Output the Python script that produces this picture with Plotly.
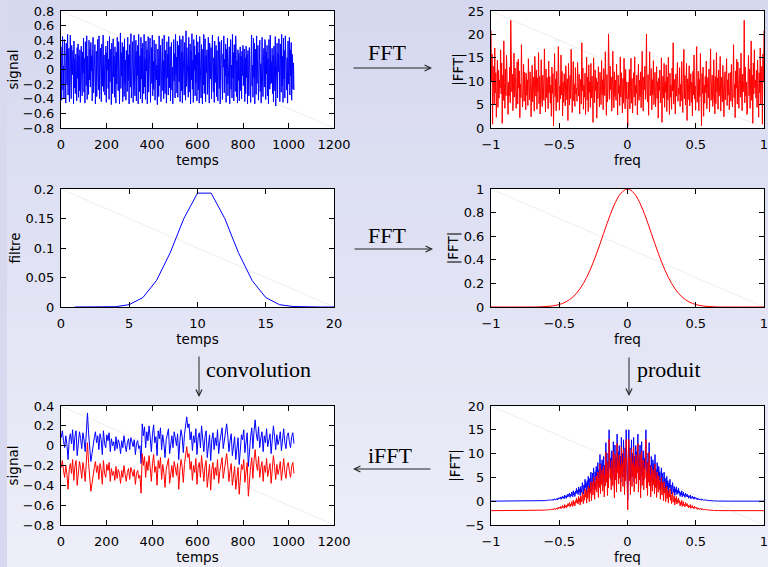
import numpy as np
import plotly.graph_objects as go

# ---------------------------------------------------------------- data
# white noise signal (every 2nd of 1024 samples)
signal = [
    0.31, -0.42, 0.12, 0.45, -0.28, 0.05, -0.39, 0.41, 0.22, -0.11, -0.46, 0.36, 0.02, -0.21, 0.48, -0.35,
    0.17, 0.29, -0.44, 0.08, 0.47, -0.18, -0.40, 0.33, 0.11, -0.07, 0.26, -0.47, 0.39, -0.25, 0.14, -0.33,
    0.21, 0.03, -0.43, 0.30, -0.12, 0.35, -0.38, 0.19, -0.29, 0.27, -0.45, 0.09, 0.32, -0.16, -0.36, 0.24,
    -0.05, 0.43, -0.31, 0.15, -0.46, 0.38, 0.06, -0.22, 0.46, -0.41, 0.18, 0.01, -0.34, 0.40, -0.14, 0.28,
    -0.24, 0.37, -0.02, 0.19, -0.43, 0.27, 0.44, -0.32, 0.08, -0.15, 0.34, -0.47, 0.13, 0.25, -0.37, 0.04,
    0.41, -0.09, -0.28, 0.46, -0.40, 0.16, 0.29, -0.06, -0.44, 0.35, 0.07, -0.23, 0.47, -0.30, 0.20, -0.12,
    -0.35, 0.10, 0.32, -0.45, 0.23, -0.01, 0.39, -0.26, 0.14, -0.41, 0.45, -0.17, 0.06, 0.28, -0.48, 0.36,
    0.00, -0.33, 0.42, -0.10, 0.18, -0.38, 0.31, 0.09, -0.46, 0.24, -0.20, 0.44, -0.04, -0.29, 0.38, -0.42,
    -0.47, 0.10, 0.50, -0.26, 0.23, -0.09, 0.37, -0.44, 0.04, 0.31, -0.37, 0.42, -0.19, 0.13, -0.42, 0.26,
    0.07, -0.30, 0.44, -0.15, 0.20, -0.47, 0.34, 0.00, -0.24, 0.49, -0.39, 0.16, -0.03, 0.38, -0.45, 0.22,
    0.47, -0.20, -0.36, 0.12, 0.40, -0.43, 0.25, -0.08, 0.33, -0.47, 0.48, 0.05, -0.30, 0.19, -0.40, 0.44,
    -0.13, 0.29, -0.46, 0.36, 0.09, -0.33, 0.48, -0.24, 0.14, -0.41, 0.39, -0.02, 0.27, -0.47, 0.21, 0.45,
    -0.31, 0.18, -0.08, 0.43, -0.45, 0.02, 0.30, -0.19, 0.47, -0.36, 0.11, -0.27, 0.40, -0.03, -0.42, 0.24,
    0.35, -0.14, 0.06, -0.48, 0.28, 0.15, -0.37, 0.46, -0.22, 0.09, 0.33, -0.44, 0.19, -0.06, 0.42, -0.29,
    0.12, -0.40, 0.47, -0.17, -0.33, 0.26, 0.04, -0.46, 0.38, -0.11, 0.21, -0.35, 0.45, 0.08, -0.25, 0.31,
    -0.43, 0.14, 0.37, -0.28, 0.03, -0.47, 0.29, 0.41, -0.16, 0.22, -0.39, 0.48, -0.07, 0.17, -0.32, 0.39,
    -0.38, 0.11, 0.33, -0.17, 0.46, -0.44, 0.06, 0.41, -0.29, 0.24, -0.46, 0.46, -0.10, 0.18, -0.35, 0.37,
    0.02, -0.42, 0.53, -0.23, 0.30, -0.06, 0.15, -0.38, 0.44, -0.31, 0.08, 0.35, -0.47, 0.26, -0.14, 0.49,
    -0.27, 0.13, -0.45, 0.41, -0.01, 0.32, -0.36, 0.20, -0.19, 0.47, -0.43, 0.04, 0.38, -0.28, 0.23, -0.46,
    0.45, -0.12, 0.17, -0.39, 0.34, 0.07, -0.47, 0.28, -0.21, 0.48, -0.33, 0.10, 0.42, -0.44, 0.19, -0.04,
    0.27, -0.34, 0.09, 0.44, -0.21, -0.46, 0.36, 0.01, -0.13, 0.30, -0.40, 0.22, 0.47, -0.08, -0.31, 0.16,
    -0.45, 0.39, -0.18, 0.05, 0.33, -0.37, 0.26, -0.02, -0.43, 0.45, 0.12, -0.26, 0.38, -0.47, 0.07, 0.24,
    0.40, -0.15, -0.41, 0.21, 0.03, 0.46, -0.32, 0.14, -0.09, 0.35, -0.45, 0.28, -0.20, 0.43, -0.36, 0.10,
    -0.04, 0.31, -0.47, 0.18, 0.41, -0.27, 0.06, -0.39, 0.48, -0.12, 0.23, -0.43, 0.34, 0.00, -0.30, 0.46,
    0.30, -0.37, 0.12, -0.46, 0.27, -0.15, 0.22, -0.43, 0.09, 0.31, -0.29, 0.18, -0.40, 0.25, -0.08, 0.33,
    -0.22, 0.05, 0.28, -0.44, 0.16, -0.33, 0.32, -0.11, 0.20, -0.47, 0.26, 0.02, -0.36, 0.30, -0.18, 0.11,
    -0.45, 0.20, 0.47, -0.22, 0.06, -0.38, 0.43, -0.11, 0.36, -0.47, 0.14, 0.28, -0.34, 0.46, -0.19, 0.02,
    0.33, -0.42, 0.17, -0.05, 0.40, -0.30, 0.08, -0.46, 0.25, 0.44, -0.16, -0.37, 0.12, 0.29, -0.24, 0.41,
    0.38, -0.41, 0.24, -0.06, 0.33, -0.36, 0.15, -0.47, 0.41, 0.03, -0.27, 0.47, -0.20, 0.11, -0.18, 0.29,
    -0.33, 0.19, -0.44, 0.32, 0.07, -0.29, 0.45, -0.50, 0.13, -0.10, 0.36, -0.39, 0.22, -0.03, 0.42, -0.25,
    -0.44, 0.35, 0.08, -0.31, 0.48, -0.23, 0.18, -0.45, 0.43, -0.13, 0.26, -0.39, 0.46, -0.02, 0.12, -0.28,
    0.16, -0.46, 0.39, -0.20, 0.05, 0.44, -0.35, 0.27, -0.09, 0.37, -0.42, 0.21, 0.10, -0.27, 0.09, -0.28,
]

# |FFT| of the signal for freq >= 0 (the spectrum is symmetric)
spectre_pos = [
    0.3, 9.8, 6.2, 12.5, 4.1, 8.7, 14.9, 5.3, 10.6, 3.2, 7.9, 11.8, 6.6, 15.2, 4.8, 9.1,
    7.4, 11.3, 2.8, 8.9, 13.6, 5.9, 10.2, 6.7, 12.0, 4.3, 9.4, 16.4, 7.0, 3.6, 10.9, 8.2,
    13.2, 6.1, 9.6, 20.1, 7.3, 5.6, 11.4, 2.7, 9.5, 16.3, 6.9, 8.2, 12.7, 3.9, 10.3, 7.1,
    14.4, 5.0, 8.6, 11.9, 4.5, 7.7, 13.1, 6.3, 9.9, 2.1, 10.7, 8.0, 12.4, 5.4, 7.6, 15.0,
    1.2, 8.8, 11.1, 6.4, 13.8, 4.4, 9.9, 7.6, 13.5, 3.5, 10.9, 6.0, 15.1, 8.4, 2.9, 11.7,
    6.6, 9.2, 4.0, 12.8, 7.9, 18.2, 5.1, 10.4, 8.3, 3.0, 11.5, 6.8, 9.7, 14.0, 5.7, 8.5,
    7.2, 12.9, 4.6, 9.3, 5.8, 14.2, 8.0, 3.3, 10.1, 16.8, 6.3, 11.2, 4.9, 8.6, 13.8, 1.6,
    10.5, 6.0, 8.9, 13.3, 4.7, 7.4, 11.6, 5.5, 9.8, 2.6, 12.1, 7.1, 15.6, 6.2, 9.0, 3.8,
    9.6, 17.4, 5.5, 7.7, 12.1, 3.7, 10.4, 6.7, 15.9, 8.9, 0.5, 11.6, 7.4, 13.0, 2.5, 9.2,
    5.3, 11.0, 7.5, 14.3, 4.1, 8.4, 10.8, 6.5, 12.6, 3.4, 9.1, 16.9, 5.9, 7.8, 11.3, 4.6,
    6.1, 14.6, 8.3, 3.0, 11.0, 5.2, 16.1, 7.8, 10.7, 4.0, 12.4, 6.8, 9.0, 15.3, 3.6, 8.1,
    10.9, 5.6, 13.4, 7.2, 2.4, 9.5, 12.0, 6.0, 8.7, 14.8, 4.8, 10.3, 7.0, 11.7, 3.9, 9.6,
    11.9, 5.7, 13.6, 7.0, 4.5, 10.0, 17.8, 6.5, 9.4, 2.2, 12.2, 8.5, 14.7, 5.1, 14.1, 7.5,
    4.2, 9.3, 12.8, 6.6, 16.0, 8.1, 3.7, 11.5, 7.7, 10.1, 23.0, 5.4, 13.0, 6.9, 9.8, 2.9,
    3.4, 10.8, 15.5, 6.9, 12.6, 4.2, 9.7, 18.6, 5.9, 11.3, 1.0, 13.9, 7.3, 16.7, 8.6, 10.2,
    6.4, 12.3, 4.4, 14.5, 8.8, 2.3, 11.8, 7.5, 17.1, 5.0, 9.9, 13.2, 0.8, 15.8, 10.0, 20.8,
]

# gaussian filter
filtre_temps = list(range(1, 21))
filtre = [0.0, 0.0, 0.0001, 0.0005, 0.004, 0.016, 0.045, 0.092, 0.150, 0.193,
          0.193, 0.150, 0.092, 0.045, 0.016, 0.004, 0.0008, 0.0001, 0.0, 0.0]

# |FFT| of the filter at freq = 0, 0.05, ..., 1
tf_filtre_pos = [1.0, 0.962, 0.857, 0.707, 0.539, 0.381, 0.249, 0.151, 0.085, 0.044,
                 0.021, 0.009, 0.004, 0.001, 0.0, 0.0, 0.0, 0.0, 0.0, 0.0, 0.0]

# filtered signal (every 5th sample)
convol = [
    0.08, 0.15, 0.05, -0.02, 0.10, 0.01,
    -0.14, 0.06, 0.12, 0.02, 0.16, -0.05, 0.09, 0.15, -0.10, 0.04, 0.14, 0.07, -0.03, 0.13, 0.06, -0.06, 0.18,
    0.33,
    0.12, -0.05, -0.16, -0.08, 0.02,
    0.08, 0.14, 0.03, 0.10, -0.04, 0.12, 0.06, -0.09, 0.15, 0.02, -0.02, 0.11, 0.05, 0.13, -0.06, 0.07, 0.00,
    0.04, -0.05, 0.09, -0.03, 0.06, 0.02, -0.08, 0.05, -0.02, 0.10, 0.01, -0.06, 0.03, 0.07, -0.04, 0.08,
    0.04, -0.01, 0.06, -0.09, 0.02, 0.05, -0.03, 0.00, -0.18,
    0.22, 0.10, 0.19, -0.02, 0.14, 0.05, 0.20, 0.08, -0.06, 0.12, 0.21, 0.03, 0.09, -0.10, 0.15, 0.07,
    0.18, -0.04, 0.11, 0.02, -0.12, 0.06, 0.13, 0.17, -0.08, 0.04, 0.10, -0.02, 0.14, 0.08,
    0.00, 0.12, -0.14, 0.05, 0.16, 0.09, -0.07, 0.11, 0.24, 0.29,
    0.18, 0.22, 0.06, 0.14, -0.05, 0.10, 0.03, 0.17, -0.09, 0.08, 0.13, -0.02, 0.20, 0.05, -0.06,
    0.09, 0.15, -0.12, 0.02, 0.11, -0.15, 0.06, 0.13, -0.04, 0.08, 0.00, 0.16, -0.08, 0.04, 0.12, 0.18,
    -0.03, 0.07, 0.14, 0.22,
    0.10, -0.06, 0.05, 0.12, -0.10, 0.03, 0.09, -0.14, -0.04, 0.08, -0.19, 0.02, 0.11, 0.06, 0.16,
    -0.07, 0.04, 0.13, -0.21, 0.01, 0.09, 0.18, -0.03, 0.15, 0.26, 0.12, 0.05,
    0.19, -0.02, 0.08, 0.14, -0.06, 0.10, 0.03, 0.17, -0.01, 0.07, 0.12, -0.08, 0.05, 0.20, 0.09, -0.04,
    0.11, 0.01,
    0.06, 0.14, -0.05, 0.08, 0.17, 0.03, -0.03, 0.10, 0.13, 0.04, -0.02, 0.09, 0.13, 0.02,
]
decalage_ifft = -0.3      # iFFT result drawn shifted below the convolution

# |FFT| of the filtered signal for freq >= 0
produit_pos = [
    0.2, 9.1, 15.0, 6.3, 11.2, 3.4, 8.6, 12.9, 5.1, 10.0, 7.2, 13.4, 4.0, 9.5, 6.8, 11.7,
    5.6, 10.4, 8.0, 14.1, 3.9, 9.2, 6.5, 11.8, 2.7, 8.4, 12.5, 5.3, 7.9, 10.6, 4.4, 9.0,
    6.9, 11.0, 15.0, 4.8, 8.3, 3.2, 10.1, 6.0, 12.3, 5.2, 7.6, 2.9, 9.4, 6.4, 4.1, 8.7,
    5.5, 7.9, 3.6, 9.8, 4.9, 6.7, 2.8, 8.1, 5.8, 3.9, 7.3, 4.5, 6.2, 2.4, 5.0, 7.0,
    3.3, 5.9, 4.2, 2.1, 6.1, 3.7, 4.8, 1.9, 3.1, 5.2, 2.6, 4.3, 1.6, 3.8, 2.9, 4.6,
    2.2, 3.4, 1.5, 2.8, 3.9, 1.8, 2.5, 3.1, 1.2, 2.6, 1.9, 3.0, 1.4, 2.3, 1.7, 2.7,
    1.6, 2.1, 1.0, 1.8, 1.3, 2.2, 0.9, 1.5, 1.9, 1.1, 1.4, 0.8, 1.7, 1.2, 1.0, 1.5,
    0.9, 1.2, 0.6, 1.0, 0.8, 1.3, 0.5, 0.9, 0.7, 1.1, 0.6, 0.8, 0.4, 0.9, 0.6, 0.7,
    0.5, 0.7, 0.3, 0.6, 0.4, 0.5, 0.25, 0.45, 0.35, 0.5, 0.2, 0.4, 0.3, 0.35, 0.2, 0.3,
    0.25, 0.15, 0.3, 0.2, 0.12, 0.22, 0.16, 0.1, 0.18, 0.12, 0.08, 0.14, 0.1, 0.07, 0.11, 0.06,
    0.08, 0.05, 0.07, 0.04, 0.06, 0.03, 0.05, 0.03, 0.04, 0.02, 0.03, 0.02, 0.03, 0.02, 0.02, 0.01,
    0.01, 0.01, 0.01, 0.01, 0.01, 0.01, 0.01, 0.01, 0.01, 0.01, 0.01, 0.01, 0.01, 0.01, 0.01, 0.01,
    0.01, 0.01, 0.01, 0.01, 0.01, 0.01, 0.01, 0.01, 0.01, 0.01, 0.01, 0.01, 0.01, 0.01, 0.01, 0.01,
    0.01, 0.01, 0.01, 0.01, 0.01, 0.01, 0.01, 0.01, 0.01, 0.01, 0.01, 0.01, 0.01, 0.01, 0.01, 0.01,
    0.01, 0.01, 0.01, 0.01, 0.01, 0.01, 0.01, 0.01, 0.01, 0.01, 0.01, 0.01, 0.01, 0.01, 0.01, 0.01,
    0.01, 0.01, 0.01, 0.01, 0.01, 0.01, 0.01, 0.01, 0.01, 0.01, 0.01, 0.01, 0.01, 0.01, 0.01, 0.01,
]
decalage_produit = -2     # product spectrum drawn shifted below

# symmetric spectra and sample axes
spectre = spectre_pos[::-1] + spectre_pos
freq = np.linspace(-1, 1, len(spectre))
tf_filtre = tf_filtre_pos[:0:-1] + tf_filtre_pos
freq_filtre = np.linspace(-1, 1, len(tf_filtre))
produit = produit_pos[::-1] + produit_pos
freq_produit = np.linspace(-1, 1, len(produit))
temps_signal = np.linspace(1, 1024, len(signal))
temps_convol = np.linspace(1, 1024, len(convol))

# ---------------------------------------------------------------- layout
W, H = 768, 567
BLUE, RED = "#0000ff", "#ff0000"
TICKFONT = dict(family="DejaVu Sans", size=13, color="black")
TITLEFONT = dict(family="DejaVu Sans", size=13.5, color="black")
SERIF = dict(family="Liberation Serif", size=22, color="black")


def ax_id(n):
    return "" if n == 1 else str(n)


def px_x(x0, x1):
    return [x0 / W, x1 / W]


def px_y(y0, y1):
    return [1 - y1 / H, 1 - y0 / H]


def axis(domain, anchor, rng, dtick, title, standoff):
    return dict(domain=domain, anchor=anchor, range=rng, dtick=dtick, tick0=0,
                showline=True, linecolor="black", linewidth=1, mirror="ticks",
                ticks="inside", ticklen=5, tickcolor="black", tickwidth=1,
                showgrid=False, zeroline=False, tickfont=TICKFONT,
                ticklabelstandoff=standoff, ticklabeloverflow="allow", automargin=False,
                title=dict(text=title, font=TITLEFONT, standoff=1))


LEFT, RIGHT = px_x(61, 334), px_x(491, 764)
ROW1, ROW2, ROW3 = px_y(11, 128), px_y(189, 307), px_y(406, 525)

fig = go.Figure()


def line(x, y, color, n, width=1, shape="linear"):
    fig.add_trace(go.Scatter(x=x, y=y, mode="lines", xaxis="x" + ax_id(n), yaxis="y" + ax_id(n),
                             line=dict(color=color, width=width, shape=shape),
                             showlegend=False, hoverinfo="skip"))


line(temps_signal, signal, BLUE, 1)
line(freq, spectre, RED, 2)
line(filtre_temps, filtre, BLUE, 3)
line(freq_filtre, tf_filtre, RED, 4, shape="spline")
line(temps_convol, convol, BLUE, 5)
line(temps_convol, [v + decalage_ifft for v in convol], RED, 5)
line(freq_produit, produit, BLUE, 6)
line(freq_produit, [v + decalage_produit for v in produit], RED, 6)

panels = [
    (LEFT, ROW1, [0, 1200], 200, "temps", [-0.8, 0.8], 0.2, "signal"),
    (RIGHT, ROW1, [-1, 1], 0.5, "freq", [0, 25], 5, "|FFT|"),
    (LEFT, ROW2, [0, 20], 5, "temps", [0, 0.2], 0.05, "filtre"),
    (RIGHT, ROW2, [-1, 1], 0.5, "freq", [0, 1], 0.2, "|FFT|"),
    (LEFT, ROW3, [0, 1200], 200, "temps", [-0.8, 0.4], 0.2, "signal"),
    (RIGHT, ROW3, [-1, 1], 0.5, "freq", [-5, 20], 5, "|FFT|"),
]
layout = dict(width=W, height=H, autosize=False, showlegend=False,
              margin=dict(l=0, r=0, t=0, b=0, pad=0, autoexpand=False),
              paper_bgcolor="#e2e3f4", plot_bgcolor="white")
for n, (xd, yd, xr, xdt, xt, yr, ydt, yt) in enumerate(panels, start=1):
    s = ax_id(n)
    layout["xaxis" + s] = axis(xd, "y" + s, xr, xdt, xt, 4)
    layout["yaxis" + s] = axis(yd, "x" + s, yr, ydt, yt, 3)
fig.update_layout(**layout)

# slide background: vertical lavender gradient and a thin side strip
shapes = []
top_c, bot_c = np.array([214, 216, 240]), np.array([238, 239, 249])
n_bands = 40
for i in range(n_bands):
    c = top_c + (bot_c - top_c) * (i + 0.5) / n_bands
    shapes.append(dict(type="rect", xref="paper", yref="paper", x0=0, x1=1,
                       y0=1 - (i + 1) / n_bands - 0.002, y1=1 - i / n_bands,
                       fillcolor=f"rgb({int(c[0])},{int(c[1])},{int(c[2])})",
                       line=dict(width=0), layer="below"))
shapes.append(dict(type="rect", xref="paper", yref="paper", x0=0, x1=7 / W, y0=0, y1=1,
                   fillcolor="rgb(216,217,240)", line=dict(width=0), layer="below"))
for n in range(1, 7):
    s = ax_id(n)
    shapes.append(dict(type="rect", xref=f"x{s} domain", yref=f"y{s} domain",
                       x0=0, x1=1, y0=0, y1=1, fillcolor="white",
                       line=dict(width=0), layer="below"))
    shapes.append(dict(type="line", xref=f"x{s} domain", yref=f"y{s} domain",
                       x0=0, y0=1, x1=1, y1=0,
                       line=dict(color="rgba(205,205,215,0.35)", width=1), layer="below"))
fig.update_layout(shapes=shapes)


# flow annotations between panels
def P(x, y):
    return x / W, 1 - y / H


def label(text, x, y, xanchor="center"):
    px, py = P(x, y)
    fig.add_annotation(x=px, y=py, xref="paper", yref="paper", text=text,
                       showarrow=False, font=SERIF, xanchor=xanchor, yanchor="middle")


def arrow(tail, tip):
    px, py = P(*tip)
    fig.add_annotation(x=px, y=py, xref="paper", yref="paper", text="",
                       showarrow=True, arrowhead=5, arrowsize=1.2, arrowwidth=1,
                       arrowcolor="#222222", ax=tail[0] - tip[0], ay=tail[1] - tip[1])


label("FFT", 387, 53)
arrow((352, 68), (432, 68))
label("FFT", 387, 235)
arrow((353, 249), (433, 249))
label("convolution", 204, 369, "left")
arrow((199, 355), (199, 397))
label("produit", 635, 369, "left")
arrow((629, 356), (629, 396))
label("iFFT", 390, 455)
arrow((432, 469), (353, 469))

fig.write_html("out.html")
